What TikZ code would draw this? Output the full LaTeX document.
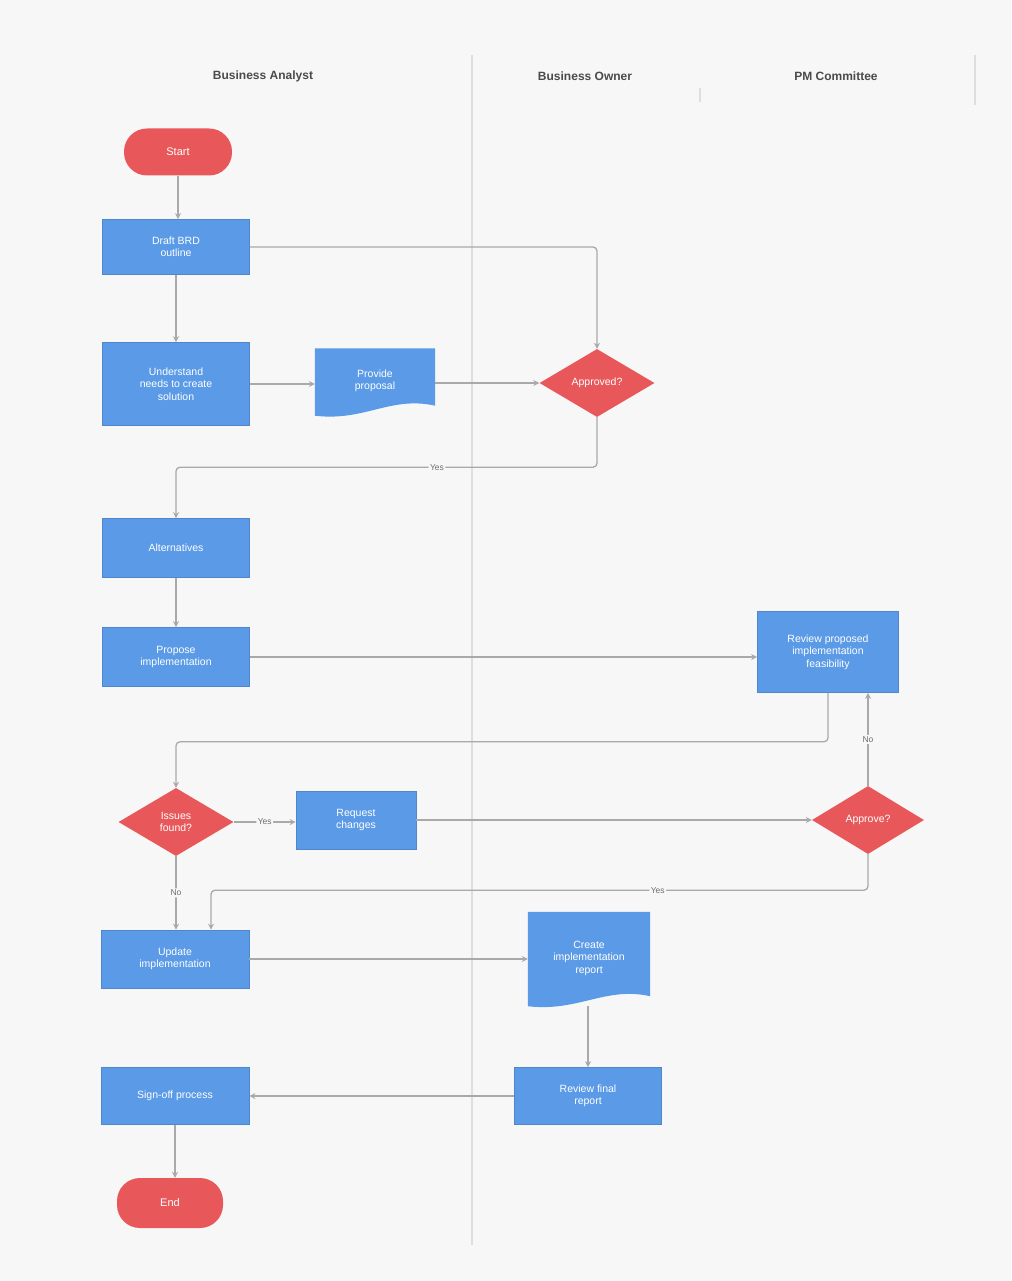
\documentclass[tikz,border=0pt]{standalone}
\usepackage{fontspec}
\setmainfont{Liberation Sans}
\usetikzlibrary{shapes.geometric,arrows.meta,calc}
\definecolor{bg}{HTML}{F7F7F7}
\definecolor{boxblue}{HTML}{5A9AE6}
\definecolor{boxedge}{HTML}{4F86CC}
\definecolor{termred}{HTML}{E8585A}
\definecolor{wire}{HTML}{A9A9A9}
\definecolor{lanecol}{HTML}{DEDEDE}
\definecolor{hdr}{HTML}{4A4A4A}
\newcommand{\docshape}[1]{%
  \fill[boxblue] (#1.north west) -- (#1.north east) -- (#1.south east)
    .. controls ($(#1.south east)+(-45,-10)$) and ($(#1.south west)+(50,16)$) .. ($(#1.south west)+(0,10)$) -- cycle;}
\begin{document}
\begin{tikzpicture}[x=1pt,y=-1pt,
  proc/.style={rectangle, fill=boxblue, draw=boxedge, line width=0.6pt, text=white, align=center,
    font=\fontsize{10.5}{12.5}\selectfont, inner sep=2pt},
  docnode/.style={rectangle, text=white, align=center, font=\fontsize{10.5}{12.5}\selectfont, inner sep=2pt},
  term/.style={rectangle, rounded corners=23pt, fill=termred, text=white, font=\fontsize{11}{13}\selectfont},
  dec/.style={diamond, fill=termred, text=white, align=center, inner sep=0pt,
    font=\fontsize{10.5}{12.5}\selectfont},
  conn/.style={draw=wire, line width=1.3pt, rounded corners=4pt, -{Stealth[length=6pt,width=6pt]}},
  lbl/.style={fill=bg, text=hdr!80, inner sep=1.5pt, font=\fontsize{8.5}{10}\selectfont},
  head/.style={text=hdr, font=\bfseries\fontsize{12}{14}\selectfont},
  laneline/.style={draw=lanecol, line width=1.5pt}]
\useasboundingbox (0,0) rectangle (1011,1281);
\fill[bg] (0,0) rectangle (1011,1281);

% lanes
\coordinate (l1t) at (472,55); \coordinate (l1b) at (472,1245);
\draw[laneline] (l1t) -- (l1b);
\coordinate (l2t) at (975,55); \coordinate (l2b) at (975,105);
\draw[laneline] (l2t) -- (l2b);
\coordinate (l3t) at (700,88); \coordinate (l3b) at (700,102);
\draw[laneline] (l3t) -- (l3b);

\node[head] (h1) at (263,76) {Business Analyst};
\node[head] (h2) at (585,76) {Business Owner};
\node[head] (h3) at (836,76) {PM Committee};

% nodes
\node[term, minimum width=108pt, minimum height=47pt] (start) at (178,152) {Start};
\node[proc, minimum width=147pt, minimum height=55pt] (b1) at (176,247) {Draft BRD\\outline};
\node[proc, minimum width=147pt, minimum height=83pt] (b2) at (176,384) {Understand\\needs to create\\solution};
\node[docnode, minimum width=120pt, minimum height=57pt] (doc1) at (375,377) {};
\docshape{doc1}
\node[docnode] (doc1t) at (375,381) {Provide\\proposal};
\node[dec, minimum width=115pt, minimum height=68pt] (dia1) at (597,383) {Approved?};
\node[proc, minimum width=147pt, minimum height=59pt] (b3) at (176,548) {Alternatives};
\node[proc, minimum width=147pt, minimum height=59pt] (b4) at (176,657) {Propose\\implementation};
\node[proc, minimum width=141pt, minimum height=81pt] (b5) at (828,652) {Review proposed\\implementation\\feasibility};
\node[dec, minimum width=115pt, minimum height=68pt] (dia2) at (176,822) {Issues\\found?};
\node[proc, minimum width=120pt, minimum height=58pt] (b6) at (356,820) {Request\\changes};
\node[dec, minimum width=112pt, minimum height=68pt] (dia3) at (868,820) {Approve?};
\node[proc, minimum width=148pt, minimum height=58pt] (b7) at (175,959) {Update\\implementation};
\node[docnode, minimum width=122pt, minimum height=84pt] (doc2) at (589,954) {};
\docshape{doc2}
\node[docnode] (doc2t) at (589,958) {Create\\implementation\\report};
\node[proc, minimum width=147pt, minimum height=57pt] (b8) at (588,1096) {Review final\\report};
\node[proc, minimum width=148pt, minimum height=57pt] (b9) at (175,1096) {Sign-off process};
\node[term, minimum width=106pt, minimum height=50pt] (end) at (170,1203) {End};

% connectors
\draw[conn] (start.south |- start.south) -- (start.south |- b1.north);
\draw[conn] (b1) -- (b2);
\draw[conn] (b1.east) -| (dia1.north);
\draw[conn] (b2) -- (doc1.west |- b2);
\draw[conn] (doc1.east |- dia1) -- (dia1.west);
\draw[conn] (dia1.south) -- ++(0,50) -| node[lbl, pos=0.19] (y1) {Yes} (b3.north);
\draw[conn] (b3) -- (b4);
\draw[conn] (b4) -- (b4 -| b5.west);
\draw[conn] (b5.south) -- ++(0,49) -| (dia2.north);
\draw[conn] (dia2.east) -- node[lbl] (y2) {Yes} (dia2.east -| b6.west);
\draw[conn] (b6.east) -- (b6.east -| dia3.west);
\draw[conn] (dia3.north) -- node[lbl] (n3) {No} (dia3.north |- b5.south);
\draw[conn] (dia3.south) -- ++(0,36) -| node[lbl, pos=0.16] (y3) {Yes} ($(b7.north)+(36,0)$);
\draw[conn] (dia2.south) -- node[lbl, pos=0.5] (n2) {No} (dia2.south |- b7.north);
\draw[conn] (b7.east) -- (b7.east -| doc2.west);
\draw[conn] ($(b8.north |- doc2.south)+(0,10)$) -- (b8.north);
\draw[conn] (b8.west) -- (b9.east);
\draw[conn] (b9.south) -- (b9.south |- end.north);
\end{tikzpicture}
\end{document}
